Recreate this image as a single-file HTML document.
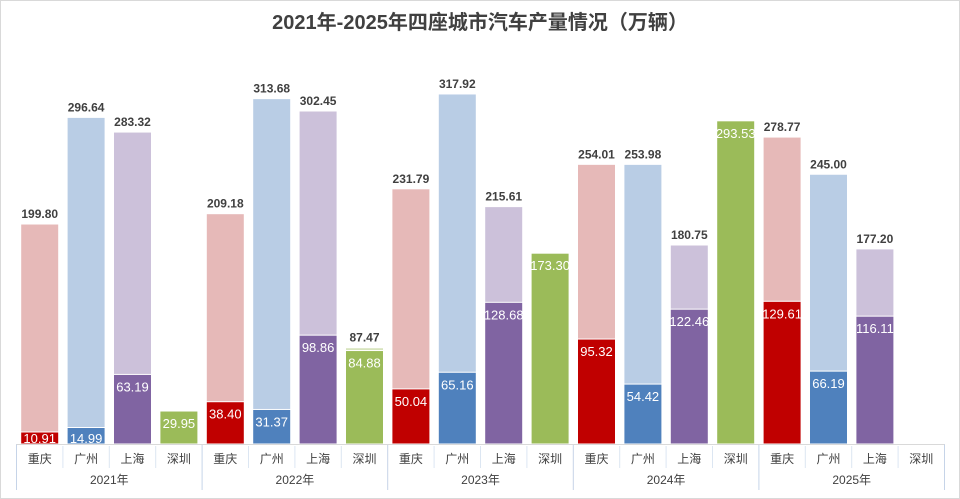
<!DOCTYPE html>
<html><head><meta charset="utf-8"><style>
body{margin:0;background:#fff;}
svg{display:block;font-family:"Liberation Sans","Noto Sans CJK SC",sans-serif;}
</style></head><body>
<svg id="c" width="960" height="499">
<rect x="0.5" y="0.5" width="959" height="498" fill="#fff" stroke="#d9d9d9"/>
<text x="480" y="29" text-anchor="middle" font-size="20" font-weight="bold" fill="#404040">2021年-2025年四座城市汽车产量情况（万辆）</text>
<g id="bars"></g><g id="axis"></g>
</svg>
<script>
const years = ['2021年','2022年','2023年','2024年','2025年'];
const cities = ['重庆','广州','上海','深圳'];
const totals = [
  [199.80,296.64,283.32,null],
  [209.18,313.68,302.45,87.47],
  [231.79,317.92,215.61,null],
  [254.01,253.98,180.75,null],
  [278.77,245.00,177.20,null]
];
const newEnergy = [
  [10.91,14.99,63.19,29.95],
  [38.40,31.37,98.86,84.88],
  [50.04,65.16,128.68,173.30],
  [95.32,54.42,122.46,293.53],
  [129.61,66.19,116.11,null]
];
const light = ['#e6b9b8','#b9cde5','#ccc1da','#d7e4bd'];
const dark = ['#c00000','#4f81bd','#8064a2','#9bbb59'];
const x0=16.5, slot=46.4, bw=38, base=444, k=1.101;
const y = v => base - v*k;
const NS='http://www.w3.org/2000/svg';
const bars=document.getElementById('bars'), axis=document.getElementById('axis');
function mk(tag,attrs,parent,txt){const e=document.createElementNS(NS,tag);for(const a in attrs)e.setAttribute(a,attrs[a]);if(txt!=null)e.textContent=txt;parent.appendChild(e);return e;}
years.forEach((yr,g)=>{
  cities.forEach((c,i)=>{
    const idx=g*4+i, bx=x0+idx*slot+4.2;
    const cx=bx+bw/2;
    const t=totals[g][i], n=newEnergy[g][i];
    if(t!=null){
      const r=mk('rect',{x:bx,y:y(t),width:bw,height:t*k,fill:light[i],stroke:'#fff','stroke-width':1},bars);
      
      
      const tl=mk('text',{x:cx,y:y(t)-6,'text-anchor':'middle','font-size':12,'font-weight':'bold',fill:'#404040'},bars,t.toFixed(2));
      
      
    }
    if(n!=null){
      const r=mk('rect',{x:bx,y:y(n),width:bw,height:n*k,fill:dark[i],stroke:'#fff','stroke-width':1},bars);
      
      
      const ly=Math.min(y(n)+17, base-1);
      const nl=mk('text',{x:cx,y:ly,'text-anchor':'middle','font-size':13,fill:'#fff'},bars,n.toFixed(2));
      
      
    }
    const cl=mk('text',{x:x0+idx*slot+slot/2,y:463,'text-anchor':'middle','font-size':12,fill:'#404040'},axis,c);
    
    
    if(i>0){const s=mk('line',{x1:x0+idx*slot,x2:x0+idx*slot,y1:446,y2:468,stroke:'#dce6f2','stroke-width':1},axis);
      
      }
  });
  const yl=mk('text',{x:x0+g*4*slot+2*slot,y:484,'text-anchor':'middle','font-size':12,fill:'#404040'},axis,yr);
  
  
});
for(let g=0;g<=5;g++){
  const l=mk('line',{x1:x0+g*4*slot,x2:x0+g*4*slot,y1:444,y2:490,stroke:'#c6d4e8','stroke-width':1},axis);
  
  
}
const bl=mk('line',{x1:x0,x2:x0+20*slot,y1:444.5,y2:444.5,stroke:'#d9d9d9','stroke-width':1},axis);


</script>
</body></html>
